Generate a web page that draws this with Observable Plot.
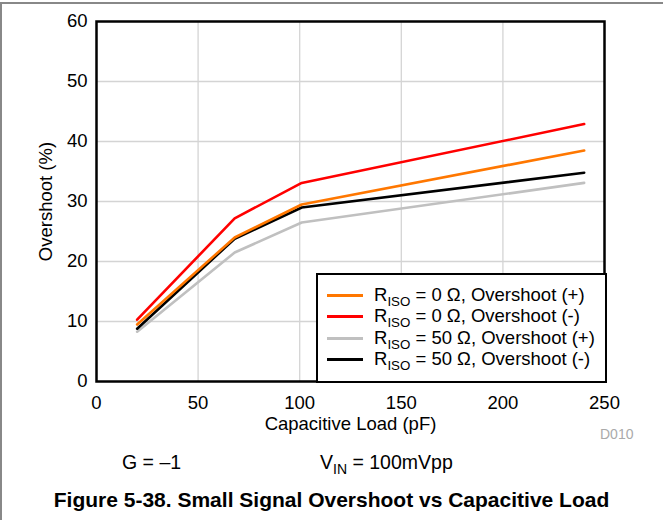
<!DOCTYPE html>
<html>
<head>
<meta charset="utf-8">
<script src="https://cdn.jsdelivr.net/npm/d3@7"></script>
<script src="https://cdn.jsdelivr.net/npm/@observablehq/plot@0.6"></script>
<style>
  html, body { margin: 0; padding: 0; background: white; }
  body { width: 663px; height: 520px; position: relative; overflow: hidden;
         font-family: Arial, "Liberation Sans", Helvetica, sans-serif; }
  #chart { position: absolute; left: 0; top: 0; }
  .abs { position: absolute; white-space: nowrap; line-height: 1; color: black; }
  #legend { position: absolute; left: 316px; top: 273px; width: 287px; height: 106px;
            border: 2px solid black; background: white; }
  .row { position: absolute; left: 9px; height: 20px; font-size: 18.5px; line-height: 20px; }
  .row .sw { position: absolute; left: 0; top: 9px; width: 36px; height: 3px; }
  .row .lb { position: absolute; left: 47px; top: 0; white-space: nowrap; }
  sub { font-size: 0.72em; vertical-align: -0.35em; line-height: 0; }
</style>
</head>
<body>
<div id="chart"></div>
<div class="abs" style="left:0;top:2px;width:663px;height:0;border-top:2px solid #888;"></div>
<div class="abs" style="left:0;top:2px;width:0;height:518px;border-left:2px solid #888;"></div>
<div id="legend"></div>
<div class="abs" style="left:600px;top:427px;font-size:14px;color:#aaa;">D010</div>
<div class="abs" id="gain" style="left:122px;top:453px;font-size:19.5px;"></div>
<div class="abs" id="vin" style="left:320px;top:453px;font-size:19.5px;"></div>
<div class="abs" id="caption" style="left:0;width:663px;text-align:center;top:489px;font-size:21px;font-weight:bold;"></div>
<script>
// ---- data ----
const capacitance = [20, 68, 101, 240];                 // pF
const riso0Pos  = [9.5, 24.0, 29.5, 38.5];              // RISO = 0 Ω, Overshoot (+)
const riso0Neg  = [10.3, 27.2, 33.1, 42.9];             // RISO = 0 Ω, Overshoot (-)
const riso50Pos = [8.3, 21.5, 26.5, 33.1];              // RISO = 50 Ω, Overshoot (+)
const riso50Neg = [8.8, 23.8, 29.0, 34.8];              // RISO = 50 Ω, Overshoot (-)
const seriesR   = ["0", "0", "50", "50"];
const seriesSign = ["(+)", "(-)", "(+)", "(-)"];
const seriesColors = ["#ff7700", "#ff0000", "#c0c0c0", "#000000"];
const seriesValues = [riso0Pos, riso0Neg, riso50Pos, riso50Neg];
const xTicks = [0, 50, 100, 150, 200, 250];
const yTicks = [0, 10, 20, 30, 40, 50, 60];
const xLabel = "Capacitive Load (pF)";
const yLabel = "Overshoot (%)";
const gainText = "G = \u20131";
const captionText = "Figure 5-38. Small Signal Overshoot vs Capacitive Load";

// ---- build table ----
const rows = [];
seriesValues.forEach((vals, s) => {
  vals.forEach((v, i) => rows.push({series: s, x: capacitance[i], y: v}));
});
const drawOrder = [2, 3, 0, 1];

const chart = Plot.plot({
  width: 663,
  height: 440,
  marginLeft: 96,
  marginRight: 59,
  marginTop: 21,
  marginBottom: 59,
  style: {fontFamily: 'Arial, "Liberation Sans", Helvetica, sans-serif', fontSize: "18.5px", color: "black", background: "white", overflow: "visible"},
  x: {domain: [0, 250], ticks: xTicks, tickSize: 0, tickPadding: 14, label: xLabel, labelAnchor: "center", labelOffset: 48, labelArrow: "none", tickFormat: d => String(d)},
  y: {domain: [0, 60], ticks: yTicks, tickSize: 0, tickPadding: 9, label: yLabel, labelAnchor: "center", labelOffset: 58, labelArrow: "none", tickFormat: d => String(d)},
  marks: [
    Plot.ruleX(xTicks.slice(1, -1), {stroke: "#d4d4d4", strokeWidth: 1.3}),
    Plot.ruleY(yTicks.slice(1, -1), {stroke: "#d4d4d4", strokeWidth: 1.3}),
    ...drawOrder.map(s => Plot.line(rows.filter(r => r.series === s), {
      x: "x", y: "y", stroke: seriesColors[s], strokeWidth: 2.6, strokeLinejoin: "miter"
    })),
    Plot.frame({stroke: "black", strokeWidth: 2.5})
  ]
});
document.getElementById("chart").appendChild(chart);

// ---- legend ----
const legend = document.getElementById("legend");
seriesColors.forEach((c, i) => {
  const row = document.createElement("div");
  row.className = "row";
  row.style.top = (10 + i * 21.4) + "px";
  row.innerHTML = `<div class="sw" style="background:${c}"></div><div class="lb">R<sub>ISO</sub> = ${seriesR[i]} \u03A9, Overshoot ${seriesSign[i]}</div>`;
  legend.appendChild(row);
});

document.getElementById("gain").textContent = gainText;
document.getElementById("vin").innerHTML = "V<sub>IN</sub> = 100mVpp";
document.getElementById("caption").textContent = captionText;
</script>
</body>
</html>
